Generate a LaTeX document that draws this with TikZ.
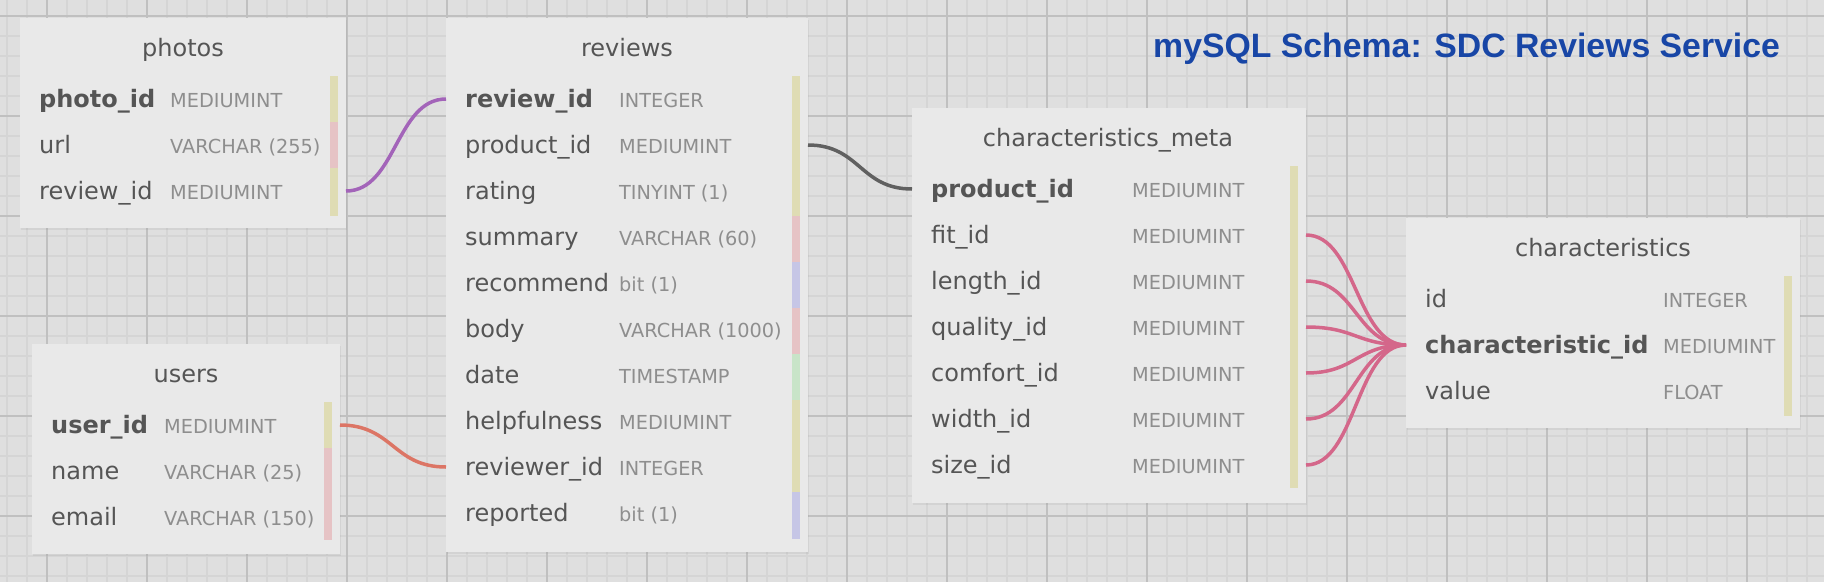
\documentclass[tikz,border=0pt]{standalone}
\usepackage{fontspec}
\setmainfont{DejaVu Sans}
\newfontfamily\headfont{Liberation Sans}
\usetikzlibrary{shadows}
\definecolor{bgc}{HTML}{DFDFDF}
\definecolor{minorc}{HTML}{D5D5D5}
\definecolor{majorc}{HTML}{C0C0C0}
\definecolor{boxc}{HTML}{E9E9E9}
\definecolor{namec}{HTML}{555555}
\definecolor{typec}{HTML}{8E8E8E}
\definecolor{byel}{HTML}{DFDCB4}
\definecolor{bpink}{HTML}{E6C3C5}
\definecolor{bblue}{HTML}{C6C6E6}
\definecolor{bgreen}{HTML}{C8E4C8}
\definecolor{lpurple}{HTML}{A364B9}
\definecolor{lgray}{HTML}{606060}
\definecolor{lsalmon}{HTML}{DC7565}
\definecolor{lpink}{HTML}{D4678A}
\definecolor{headc}{HTML}{1846A6}
\tikzset{
  minorline/.style={draw=minorc, line width=1.6pt},
  majorline/.style={draw=majorc, line width=2pt},
  tbl/.style={fill=boxc, draw=none, anchor=north west, inner sep=0pt,
     drop shadow={opacity=0.12, shadow xshift=1pt, shadow yshift=-2pt}},
  ttitle/.style={anchor=base, text=namec, inner sep=0pt, font=\fontsize{24}{28}\selectfont},
  fname/.style={anchor=base west, text=namec, inner sep=0pt, font=\fontsize{24}{28}\selectfont},
  fkey/.style={fname, font=\fontsize{24}{28}\selectfont\bfseries},
  ftype/.style={anchor=base west, text=typec, inner sep=0pt, font=\fontsize{19.3}{23}\selectfont},
  link/.style={line width=3.5pt},
}
\newcommand{\erow}[6]{%
  \node[#1] (#2n) at (#3) {#5};
  \node[ftype] (#2t) at (#4) {#6};}
\begin{document}
\begin{tikzpicture}[x=1pt,y=-1pt]
\useasboundingbox (0,0) rectangle (1824,582);
\begin{scope}
\clip (0,0) rectangle (1824,582);
\fill[bgc] (0,0) rectangle (1824,582);
\foreach \x in {7,27,...,1827} \draw[minorline] (\x,0) -- (\x,582);
\foreach \y in {-4,16,...,596} \draw[minorline] (0,\y) -- (1824,\y);
\foreach \x in {47,147,...,1847} \draw[majorline] (\x,0) -- (\x,582);
\foreach \y in {16,116,...,616} \draw[majorline] (0,\y) -- (1824,\y);
\end{scope}

\node[anchor=base west, inner sep=0pt, text=headc, font=\headfont\bfseries\fontsize{33.8}{38}\selectfont] (heading) at (1153,57) {mySQL Schema: SDC Reviews Service};

% ---------- photos
\node[tbl, minimum width=326pt, minimum height=210pt] (photos) at (20,18) {};
\node[ttitle] (photos-title) at (183,56) {photos};
\fill[byel] (330,76) rectangle (338,122);
\fill[bpink] (330,122) rectangle (338,168);
\fill[byel] (330,168) rectangle (338,216);
\erow{fkey}{ph1}{39,107}{170,107}{photo\_id}{MEDIUMINT}
\erow{fname}{ph2}{39,153}{170,153}{url}{VARCHAR (255)}
\erow{fname}{ph3}{39,199}{170,199}{review\_id}{MEDIUMINT}
\coordinate (ph3-out) at (346,191);

% ---------- reviews
\node[tbl, minimum width=362pt, minimum height=534pt] (reviews) at (446,18) {};
\node[ttitle] (reviews-title) at (627,56) {reviews};
\fill[byel] (792,76) rectangle (800,216);
\fill[bpink] (792,216) rectangle (800,262);
\fill[bblue] (792,262) rectangle (800,308);
\fill[bpink] (792,308) rectangle (800,354);
\fill[bgreen] (792,354) rectangle (800,400);
\fill[byel] (792,400) rectangle (800,492);
\fill[bblue] (792,492) rectangle (800,539);
\erow{fkey}{rv1}{465,107}{619,107}{review\_id}{INTEGER}
\erow{fname}{rv2}{465,153}{619,153}{product\_id}{MEDIUMINT}
\erow{fname}{rv3}{465,199}{619,199}{rating}{TINYINT (1)}
\erow{fname}{rv4}{465,245}{619,245}{summary}{VARCHAR (60)}
\erow{fname}{rv5}{465,291}{619,291}{recommend}{bit (1)}
\erow{fname}{rv6}{465,337}{619,337}{body}{VARCHAR (1000)}
\erow{fname}{rv7}{465,383}{619,383}{date}{TIMESTAMP}
\erow{fname}{rv8}{465,429}{619,429}{helpfulness}{MEDIUMINT}
\erow{fname}{rv9}{465,475}{619,475}{reviewer\_id}{INTEGER}
\erow{fname}{rv10}{465,521}{619,521}{reported}{bit (1)}
\coordinate (rv1-in) at (446,99);
\coordinate (rv2-out) at (808,145);
\coordinate (rv9-in) at (446,467);

% ---------- users
\node[tbl, minimum width=308pt, minimum height=210pt] (users) at (32,344) {};
\node[ttitle] (users-title) at (186,382) {users};
\fill[byel] (324,402) rectangle (332,448);
\fill[bpink] (324,448) rectangle (332,540);
\erow{fkey}{us1}{51,433}{164,433}{user\_id}{MEDIUMINT}
\erow{fname}{us2}{51,479}{164,479}{name}{VARCHAR (25)}
\erow{fname}{us3}{51,525}{164,525}{email}{VARCHAR (150)}
\coordinate (us1-out) at (340,425);

% ---------- characteristics_meta
\node[tbl, minimum width=394pt, minimum height=395pt] (cmeta) at (912,108) {};
\node[ttitle] (cmeta-title) at (1108,146) {characteristics\_meta};
\fill[byel] (1290,166) rectangle (1298,488);
\erow{fkey}{cm1}{931,197}{1132,197}{product\_id}{MEDIUMINT}
\erow{fname}{cm2}{931,243}{1132,243}{fit\_id}{MEDIUMINT}
\erow{fname}{cm3}{931,289}{1132,289}{length\_id}{MEDIUMINT}
\erow{fname}{cm4}{931,335}{1132,335}{quality\_id}{MEDIUMINT}
\erow{fname}{cm5}{931,381}{1132,381}{comfort\_id}{MEDIUMINT}
\erow{fname}{cm6}{931,427}{1132,427}{width\_id}{MEDIUMINT}
\erow{fname}{cm7}{931,473}{1132,473}{size\_id}{MEDIUMINT}
\coordinate (cm1-in) at (912,189);
\coordinate (cm2-out) at (1306,235);
\coordinate (cm3-out) at (1306,281);
\coordinate (cm4-out) at (1306,327);
\coordinate (cm5-out) at (1306,373);
\coordinate (cm6-out) at (1306,419);
\coordinate (cm7-out) at (1306,465);

% ---------- characteristics
\node[tbl, minimum width=394pt, minimum height=210pt] (chars) at (1406,218) {};
\node[ttitle] (chars-title) at (1603,256) {characteristics};
\fill[byel] (1784,276) rectangle (1792,416);
\erow{fname}{ch1}{1425,307}{1663,307}{id}{INTEGER}
\erow{fkey}{ch2}{1425,353}{1663,353}{characteristic\_id}{MEDIUMINT}
\erow{fname}{ch3}{1425,399}{1663,399}{value}{FLOAT}
\coordinate (ch2-in) at (1406,345);

% ---------- connectors
\draw[link, lpurple] (ph3-out) .. controls +(50,0) and +(-50,0) .. (rv1-in);
\draw[link, lgray] (rv2-out) .. controls +(52,0) and +(-52,0) .. (cm1-in);
\draw[link, lsalmon] (us1-out) .. controls +(53,0) and +(-53,0) .. (rv9-in);
\foreach \c in {cm2,cm3,cm4,cm5,cm6,cm7}
  \draw[link, lpink] (\c-out) .. controls +(50,0) and +(-50,0) .. (ch2-in);
\end{tikzpicture}
\end{document}
